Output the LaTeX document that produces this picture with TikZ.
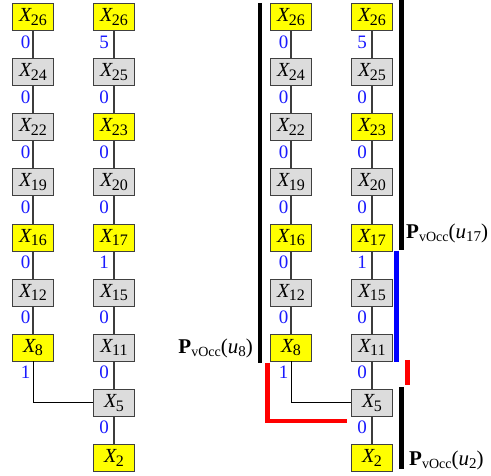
\documentclass[tikz,border=0pt]{standalone}
\usepackage{fontspec}
\setmainfont{Liberation Serif}
\usetikzlibrary{calc}

\definecolor{boxyellow}{HTML}{FFFF00}
\definecolor{boxgray}{HTML}{DCDCDC}
\definecolor{edgegray}{HTML}{3C3C3C}
\definecolor{labelblue}{HTML}{1A1AFF}

% variable names X_k and the path labels P_vOcc(u_k)
\newcommand{\Xv}[1]{\textit{X}\kern-1pt\raisebox{-0.4ex}{\fontsize{16}{16}\selectfont #1}}
\newcommand{\Pv}[1]{\textbf{P}\raisebox{-0.4ex}{\fontsize{14}{14}\selectfont vOcc}(\textit{u}\raisebox{-0.4ex}{\fontsize{15}{15}\selectfont #1})}

\tikzset{
  vbox/.style={draw=black!75, line width=0.6pt, minimum width=41pt,
    minimum height=27pt, inner sep=0pt, font=\fontsize{20}{20}\selectfont},
  ybox/.style={vbox, fill=boxyellow},
  gbox/.style={vbox, fill=boxgray},
  wt/.style={text=labelblue, font=\fontsize{19}{19}\selectfont,
    anchor=east, inner sep=0pt},
  treeedge/.style={edgegray, line width=1.2pt},
  elbow/.style={black, line width=0.8pt},
  pathlabel/.style={inner sep=0pt, font=\fontsize{21}{21}\selectfont},
  bar/.style={line width=4.5pt},
}

\begin{document}
\begin{tikzpicture}[x=1pt, y=-1pt]
\useasboundingbox (0,0) rectangle (491,476);

\foreach \p/\dx in {A/0, B/258} {
  \begin{scope}[xshift=\dx pt]
    % left chain
    \foreach \i/\n/\s/\w in {0/26/ybox/0, 1/24/gbox/0, 2/22/gbox/0, 3/19/gbox/0,
                             4/16/ybox/0, 5/12/gbox/0, 6/8/ybox/1} {
      \node[\s] (\p l\i) at (33, {17+55.1*\i}) {\Xv{\n}};
      \node[wt] (\p lw\i) at (30.5, {17+55.1*\i+25}) {\w};
    }
    % right chain
    \foreach \i/\n/\s in {0/26/ybox, 1/25/gbox, 2/23/ybox, 3/20/gbox, 4/17/ybox,
                          5/15/gbox, 6/11/gbox, 7/5/gbox, 8/2/ybox} {
      \node[\s] (\p r\i) at (114, {17+55.1*\i}) {\Xv{\n}};
    }
    \foreach \i/\w in {0/5, 1/0, 2/0, 3/0, 4/1, 5/0, 6/0, 7/0} {
      \node[wt] (\p rw\i) at (109, {17+55.1*\i+25}) {\w};
    }
    % edges
    \foreach \i in {0,...,5} {
      \pgfmathtruncatemacro{\j}{\i+1}
      \draw[treeedge] (\p l\i) -- (\p l\j);
    }
    \foreach \i in {0,...,7} {
      \pgfmathtruncatemacro{\j}{\i+1}
      \draw[treeedge] (\p r\i) -- (\p r\j);
    }
    \draw[elbow] (\p l6.south) |- (\p r7.west);
  \end{scope}
}

% path markers on the second tree
\draw[bar, black] (260,3) -- (260,363);
\node[pathlabel, anchor=east] (pu8) at (253,348) {\Pv{8}};

\draw[bar, black] (401.5,0) -- (401.5,250);
\node[pathlabel, anchor=west] (pu17) at (406,233) {\Pv{17}};

\draw[bar, blue] (396.3,251) -- (396.3,362);
\draw[bar, red] (407.5,360) -- (407.5,385);
\draw[bar, red, line join=miter] (267.5,363) -- (267.5,421) -- (347,421);

\draw[bar, black] (401.5,387) -- (401.5,469);
\node[pathlabel, anchor=west] (pu2) at (409,460) {\Pv{2}};
\end{tikzpicture}
\end{document}
